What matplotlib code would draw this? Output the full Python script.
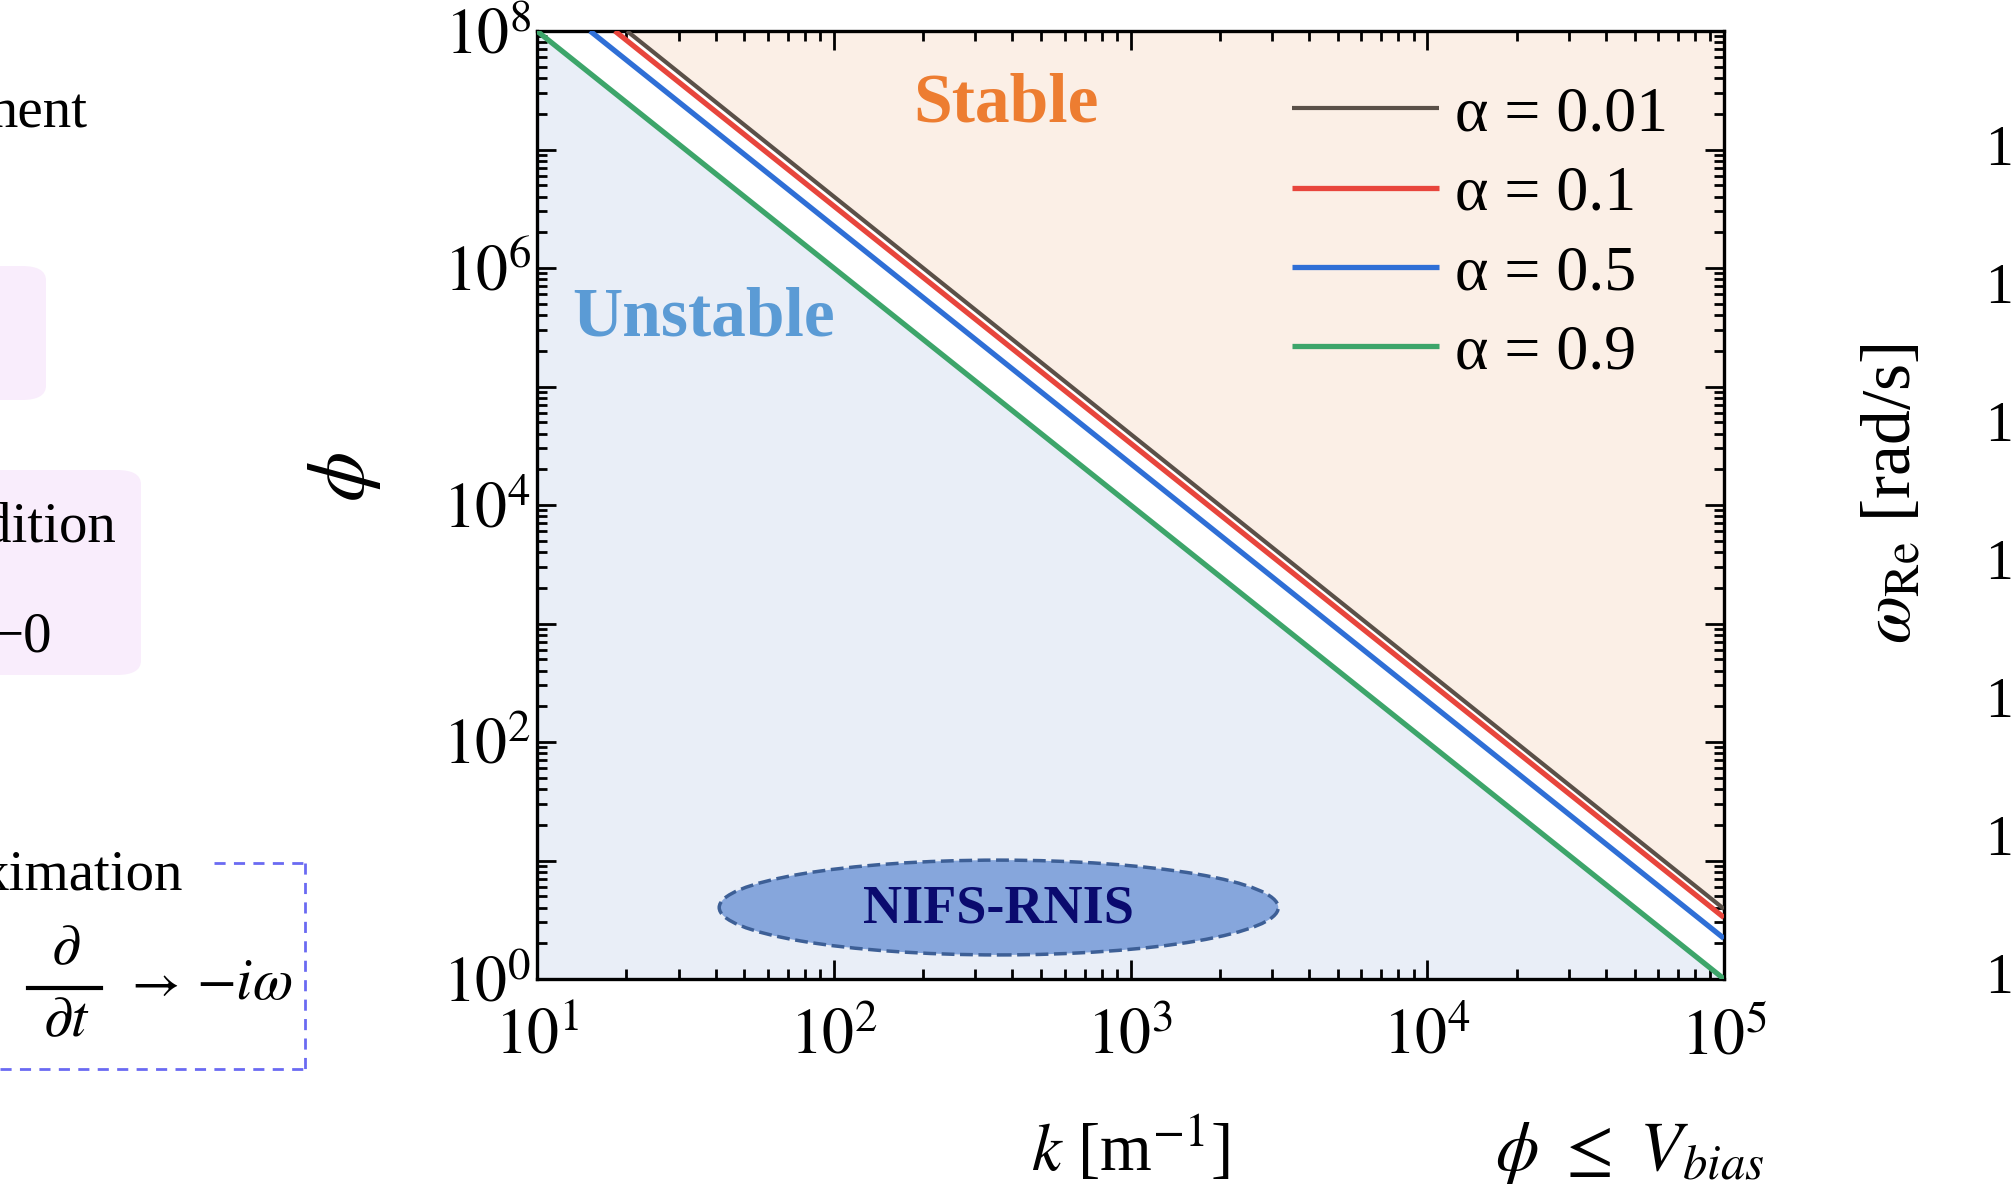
import matplotlib.pyplot as plt
import numpy as np
from matplotlib.patches import Ellipse, FancyBboxPatch
from matplotlib.lines import Line2D

plt.rcParams['font.family'] = ['Liberation Serif', 'DejaVu Sans']
plt.rcParams['mathtext.fontset'] = 'stix'

# stability boundaries phi_c(k) (straight lines on log-log)
alphas = ['0.01', '0.1', '0.5', '0.9']
k_start = [20.1, 18.3, 15.1, 10.0]      # k where the line leaves the top (phi = 1e8)
phi_start = [1e8, 1e8, 1e8, 1e8]
k_end = [1e5, 1e5, 1e5, 1e5]
phi_end = [3.9, 3.3, 2.2, 1.0]
colors = ['#5a5048', '#e8453c', '#2f6fd6', '#3da56a']
widths = [3.0, 3.8, 3.8, 3.8]

x_exps = [1, 2, 3, 4, 5]
y_exps = [0, 1, 2, 3, 4, 5, 6, 7, 8]
right_ticks = ['1', '1', '1', '1', '1', '1', '1']

W, H = 2012, 1199
fig = plt.figure(figsize=(W / 100, H / 100), dpi=100)


def fx(x):
    return x / W


def fy(y):
    return 1 - y / H


ax = fig.add_axes([fx(537), fy(979), (1724 - 537) / W, (979 - 31) / H])

# shaded regions
ax.fill([k_start[0], k_end[0], k_end[0]], [phi_start[0], phi_end[0], phi_start[0]],
        color='#fbefe6', lw=0, zorder=0)
ax.fill([k_start[3], k_end[3], k_start[3]], [phi_start[3], phi_end[3], phi_end[3]],
        color='#e9eef7', lw=0, zorder=0)

for i in range(len(alphas)):
    ax.plot([k_start[i], k_end[i]], [phi_start[i], phi_end[i]], color=colors[i],
            lw=widths[i], label='α = ' + alphas[i], solid_capstyle='butt', zorder=3 - i * 0.1)

ax.set_xscale('log')
ax.set_yscale('log')
ax.set_xlim(10, 1e5)
ax.set_ylim(1, 1e8)

ax.set_xticks([10.0 ** e for e in x_exps])
ax.set_xticklabels([r'$10^{%d}$' % e for e in x_exps])
ax.set_yticks([10.0 ** e for e in y_exps])
ax.set_yticklabels([r'$10^{%d}$' % e if e % 2 == 0 else '' for e in y_exps])
ax.xaxis.set_minor_locator(plt.LogLocator(base=10, subs=np.arange(2, 10)))
ax.yaxis.set_minor_locator(plt.LogLocator(base=10, subs=np.arange(2, 10), numticks=20))
ax.xaxis.set_minor_formatter(plt.NullFormatter())
ax.yaxis.set_minor_formatter(plt.NullFormatter())

ax.tick_params(which='both', direction='in', top=True, right=True, width=2, color='black')
ax.tick_params(which='major', length=14, labelsize=46)
ax.tick_params(which='minor', length=7)
ax.tick_params(axis='x', pad=22)
ax.tick_params(axis='y', pad=4)
for s in ax.spines.values():
    s.set_linewidth(2.4)

ax.set_xlabel(r'$k$ [m$^{\mathrm{-1}}$]', fontsize=48)
ax.xaxis.set_label_coords(0.5, -0.143)
ax.set_ylabel(r'$\phi$', fontsize=58)
ax.yaxis.set_label_coords(-0.13, 0.53)

ax.text(0.395, 0.922, 'Stable', transform=ax.transAxes, fontsize=50, fontweight='bold',
        color='#ed7d31', ha='center', va='center')
ax.text(0.14, 0.697, 'Unstable', transform=ax.transAxes, fontsize=50, fontweight='bold',
        color='#5b9bd5', ha='center', va='center')

ax.add_patch(Ellipse((0.389, 0.0754), 0.471, 0.100, transform=ax.transAxes,
                     facecolor='#86a6dc', edgecolor='#3d5f96', ls='--', lw=2.5, zorder=4))
ax.text(0.389, 0.073, 'NIFS-RNIS', transform=ax.transAxes, fontsize=39, fontweight='bold',
        color='#0a0a6e', ha='center', va='center', zorder=5)

ax.legend(loc='upper left', bbox_to_anchor=(0.636, 0.942), frameon=False, fontsize=46,
          handlelength=2.3, handletextpad=0.25, labelspacing=0.32, borderpad=0, borderaxespad=0)

# surrounding slide content
fig.patches.append(FancyBboxPatch((fx(-60), fy(400)), fx(106), (400 - 266) / H,
                                  boxstyle='round,pad=0,rounding_size=0.012',
                                  transform=fig.transFigure, fc='#f9edfc', ec='none'))
fig.patches.append(FancyBboxPatch((fx(-60), fy(675)), fx(201), (675 - 470) / H,
                                  boxstyle='round,pad=0,rounding_size=0.012',
                                  transform=fig.transFigure, fc='#f9edfc', ec='none'))
fig.text(fx(88), fy(127), 'ment', fontsize=41, ha='right', va='baseline')
fig.text(fx(116), fy(542), 'dition', fontsize=41, ha='right', va='baseline')
fig.text(fx(52), fy(652), '−0', fontsize=41, ha='right', va='baseline')
fig.text(fx(183), fy(889), 'ximation', fontsize=41, ha='right', va='baseline')

dash = dict(transform=fig.transFigure, color='#6a6af2', lw=2, ls=(0, (4, 3)))
fig.add_artist(Line2D([fx(214), fx(305)], [fy(863), fy(863)], **dash))
fig.add_artist(Line2D([fx(305), fx(305)], [fy(863), fy(1069)], **dash))
fig.add_artist(Line2D([fx(0), fx(305)], [fy(1069), fy(1069)], **dash))

# d/dt -> -i omega, laid out as a display fraction
fig.text(fx(66), fy(950), r'$\partial$', fontsize=42, ha='center', va='center')
fig.add_artist(Line2D([fx(28), fx(101)], [fy(988), fy(988)], transform=fig.transFigure,
                      color='black', lw=3))
fig.text(fx(66), fy(1022), r'$\partial t$', fontsize=42, ha='center', va='center')
fig.text(fx(151), fy(985), r'$\rightarrow$', fontsize=38, ha='center', va='center')
fig.text(fx(196), fy(985), r'$-i\omega$', fontsize=42, ha='left', va='center')

fig.text(fx(1893), fy(494), r'$\omega_{\mathrm{Re}}$ [rad/s]', fontsize=50, rotation=90,
         ha='center', va='center')
for i, t in enumerate(right_ticks):
    fig.text(fx(1985), fy(151 + i * 138), t, fontsize=40, ha='left', va='center')

fig.text(fx(1495), fy(1153), r'$\phi\ \leq\ V_{bias}$', fontsize=50, ha='left', va='center')

fig.savefig('out.png', dpi=100)
